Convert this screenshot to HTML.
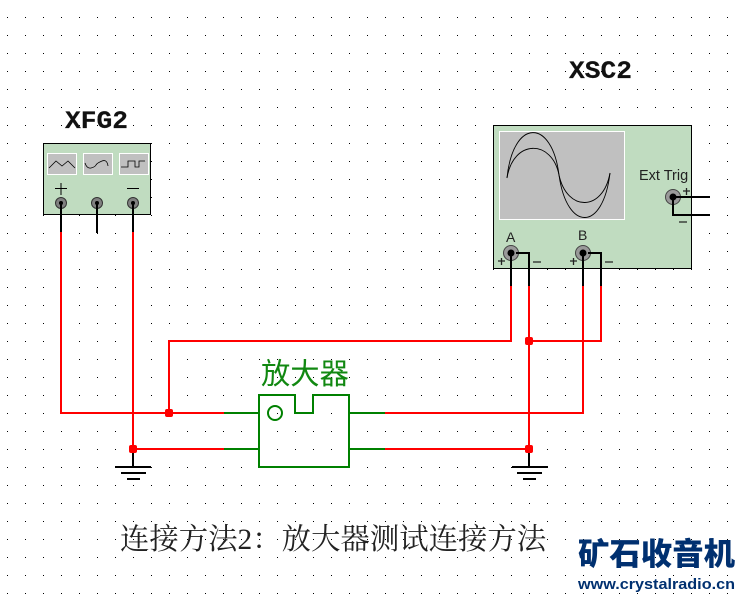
<!DOCTYPE html>
<html><head><meta charset="utf-8"><style>
html,body{margin:0;padding:0;background:#fff}
svg{display:block}
</style></head><body>
<svg width="744" height="596" viewBox="0 0 744 596" xmlns="http://www.w3.org/2000/svg">
<defs><pattern id="g" x="7" y="17" width="18" height="18" patternUnits="userSpaceOnUse"><rect width="1" height="1" fill="#000"/></pattern></defs>
<rect width="744" height="596" fill="#fff"/>
<rect width="744" height="596" fill="url(#g)"/>
<g font-family="'Liberation Mono',monospace" font-weight="bold" font-size="25" fill="#111" stroke="#111" stroke-width="0.2">
<text x="65" y="128" textLength="63" lengthAdjust="spacingAndGlyphs">XFG2</text><text x="569" y="78" textLength="63" lengthAdjust="spacingAndGlyphs">XSC2</text></g>

<!-- XFG -->
<rect x="43.500" y="143.500" width="107" height="71" fill="#c0dcc0" stroke="#000"/>
<g fill="#c0c0c0" stroke="#fff"><rect x="47.500" y="153.500" width="29" height="21"/><rect x="83.500" y="153.500" width="29" height="21"/><rect x="119.500" y="153.500" width="29" height="21"/></g>
<g fill="none" stroke="#000" stroke-width="0.8"><path d="M49 168l7-7 6 5 6-5 7 7"/><path d="M85 163q2 6 6 5t5-3 6-4 6 5"/><path d="M121 167h7v-6h7v6h4v-6h6"/></g>
<path d="M55 188.500h12M61 183v12M127 188.500h12" stroke="#000" fill="none"/>
<g fill="#808080" stroke="#333"><circle cx="61" cy="203" r="5.500"/><circle cx="97" cy="203" r="5.500"/><circle cx="133" cy="203" r="5.500"/></g>

<!-- Scope -->
<rect x="493.500" y="125.500" width="198" height="143" fill="#c0dcc0" stroke="#000"/>
<rect x="499.500" y="131.500" width="125" height="88" fill="#c0c0c0" stroke="#fff"/>
<g fill="none" stroke="#000" stroke-width="0.9"><path d="M507 178C513 118 552 118 559 175C567 232 603 232 610 173"/><path d="M507 178C513 139 552 139 559 175C567 212 603 212 610 173"/></g>
<g font-family="'Liberation Sans',sans-serif" fill="#222"><text x="639" y="180" font-size="14.500">Ext Trig</text><text x="506" y="242" font-size="14">A</text><text x="578" y="240" font-size="14">B</text></g>
<path d="M498 261h7M501.500 258v7M570 261h7M573.500 258v7M683 191h7M686.500 188v7M533 262h8M605 262h8M679 222h8" stroke="#222" stroke-width="1.300" fill="none"/>
<g fill="#999" stroke="#444"><circle cx="511" cy="253" r="7.500"/><circle cx="583" cy="253" r="7.500"/><circle cx="673" cy="197" r="7.500"/></g>

<!-- black leads -->
<g fill="none" stroke="#000" stroke-width="2"><path d="M61 203v30M97 203v30M133 203v30M511 253v34M516 253h13v34M583 253v34M588 253h13v34M673 197h37M673 197v18h37M133 449v18M529 449v18"/></g>
<g fill="#000"><circle cx="61" cy="203" r="2"/><circle cx="97" cy="203" r="2"/><circle cx="133" cy="203" r="2"/><circle cx="511" cy="253" r="3.500"/><circle cx="583" cy="253" r="3.500"/><circle cx="673" cy="197" r="3.500"/></g>
<path d="M115 467h36M121 473h25M127 479h13M512 467h36M517 473h25M523 479h13" stroke="#000" stroke-width="2" fill="none"/>

<!-- red wires -->
<g fill="none" stroke="#f00" stroke-width="2"><path d="M61 232V413H224M133 232V449M133 449H224M169 413V341H511V286M529 286V449M601 286V341H529M385 413H583V286M385 449H529"/></g>
<g fill="#f00"><rect x="165" y="409" width="8" height="8" rx="2"/><rect x="129" y="445" width="8" height="8" rx="2"/><rect x="525" y="337" width="8" height="8" rx="2"/><rect x="525" y="445" width="8" height="8" rx="2"/></g>

<!-- amp -->
<g fill="none" stroke="#008000" stroke-width="2"><path d="M259 395H295V413H313V395H349V467H259ZM224 413H259M224 449H259M349 413H385M349 449H385"/><circle cx="275" cy="413" r="7"/></g>
<text x="261" y="384" font-family="'Noto Sans CJK SC',sans-serif" font-size="29.300" fill="#118811">放大器</text>
<text x="120" y="549" font-family="'Liberation Serif','Noto Serif CJK SC',serif" font-size="29.400" fill="#222">连接方法2：放大器测试连接方法</text>
<text x="578" y="565" font-family="'Noto Sans CJK SC',sans-serif" font-weight="900" font-size="31" fill="#003070" textLength="157" lengthAdjust="spacingAndGlyphs">矿石收音机</text>
<text x="578" y="589" font-family="'Liberation Sans',sans-serif" font-weight="bold" font-size="15" fill="#003070" textLength="157" lengthAdjust="spacingAndGlyphs">www.crystalradio.cn</text>
</svg>
</body></html>
